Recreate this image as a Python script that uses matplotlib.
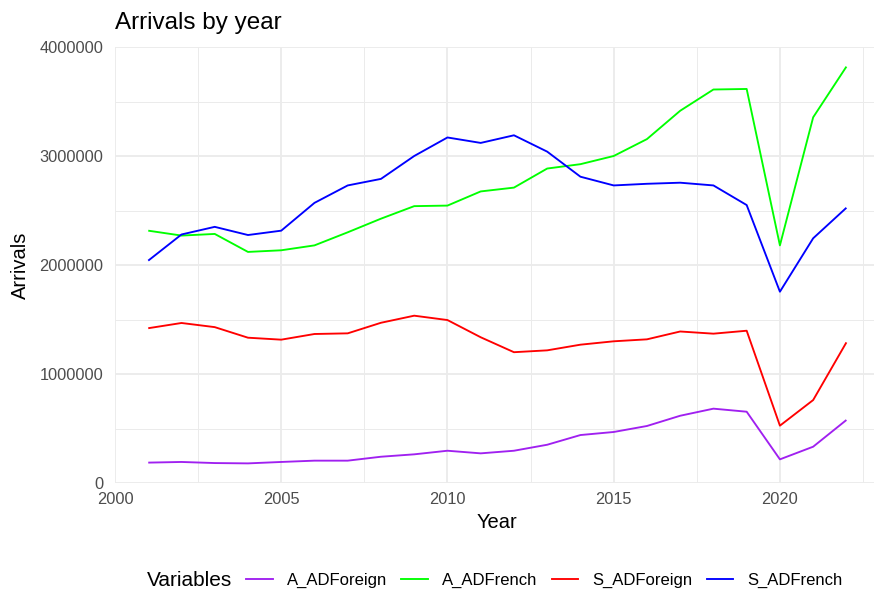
import matplotlib
matplotlib.use("Agg")
import matplotlib.pyplot as plt
from matplotlib.lines import Line2D
import numpy as np

plt.rcParams['font.family'] = ['Liberation Sans', 'DejaVu Sans']

years = list(range(2001, 2023))
A_ADForeign = [187000, 193000, 183000, 180000, 193000, 205000, 205000, 241000, 263000, 296000, 272000,
               296000, 351000, 440000, 468000, 523000, 617000, 682000, 654000, 217000, 333000, 578000]
A_ADFrench = [2315000, 2270000, 2285000, 2120000, 2135000, 2180000, 2300000, 2425000, 2540000, 2545000, 2675000,
              2710000, 2885000, 2925000, 3000000, 3155000, 3415000, 3610000, 3615000, 2180000, 3355000, 3820000]
S_ADForeign = [1420000, 1468000, 1430000, 1333000, 1315000, 1367000, 1373000, 1470000, 1535000, 1495000, 1337000,
               1200000, 1217000, 1269000, 1300000, 1318000, 1390000, 1370000, 1397000, 526000, 761000, 1290000]
S_ADFrench = [2040000, 2280000, 2350000, 2275000, 2315000, 2570000, 2730000, 2790000, 3000000, 3170000, 3120000,
              3190000, 3040000, 2810000, 2730000, 2745000, 2755000, 2730000, 2550000, 1755000, 2245000, 2525000]

series_names = ["A_ADForeign", "A_ADFrench", "S_ADForeign", "S_ADFrench"]
series_values = [A_ADForeign, A_ADFrench, S_ADForeign, S_ADFrench]
colors = ["#A020F0", "#00FF00", "#FF0000", "#0000FF"]

x_ticks = [2000, 2005, 2010, 2015, 2020]
y_ticks = [0, 1000000, 2000000, 3000000, 4000000]
y_tick_labels = ["0", "1000000", "2000000", "3000000", "4000000"]

W, H = 874, 593
fig = plt.figure(figsize=(W / 100, H / 100), dpi=100)
left, right, top, bottom = 115, 874, 47, 483
ax = fig.add_axes([left / W, (H - bottom) / H, (right - left) / W, (bottom - top) / H])

for name, vals, c in zip(series_names, series_values, colors):
    ax.plot(years, vals, color=c, lw=1.35, label=name, solid_capstyle='butt', zorder=3)

ax.set_xlim(2000, 2022.83)
ax.set_ylim(0, 4000000)
ax.set_xticks(x_ticks)
ax.set_xticklabels([str(t) for t in x_ticks])
ax.set_yticks(y_ticks)
ax.set_yticklabels(y_tick_labels)
ax.set_xticks([2002.5, 2007.5, 2012.5, 2017.5, 2022.5], minor=True)
ax.set_yticks([500000, 1500000, 2500000, 3500000], minor=True)
ax.grid(which='major', color='#EBEBEB', lw=1.35, zorder=0)
ax.grid(which='minor', color='#EBEBEB', lw=0.7, zorder=0)
ax.set_axisbelow(True)
for s in ax.spines.values():
    s.set_visible(False)
ax.tick_params(which='both', length=0)
ax.tick_params(axis='y', pad=8.5, labelsize=11.8, labelcolor='#4D4D4D')
ax.tick_params(axis='x', pad=6.5, labelsize=11.8, labelcolor='#4D4D4D')

fig.text(115 / W, 1 - 23 / H, "Arrivals by year", fontsize=17.5, ha='left', va='center', color='black')
fig.text(20 / W, 1 - 265 / H, "Arrivals", fontsize=14.5, rotation=90, ha='center', va='center')
fig.text(497 / W, 1 - 522 / H, "Year", fontsize=14.5, ha='center', va='center')

fig.text(147 / W, 1 - 581 / H, "Variables", fontsize=15, ha='left', va='center')
handles = [Line2D([0], [0], color=c, lw=1.35) for c in colors]
fig.legend(handles, series_names, loc='center left', bbox_to_anchor=(246 / W, 1 - 580 / H),
           ncol=4, frameon=False, fontsize=12.0, handlelength=1.6, handletextpad=0.85,
           columnspacing=0.85, borderpad=0, borderaxespad=0)

fig.savefig("out.png", dpi=100)
